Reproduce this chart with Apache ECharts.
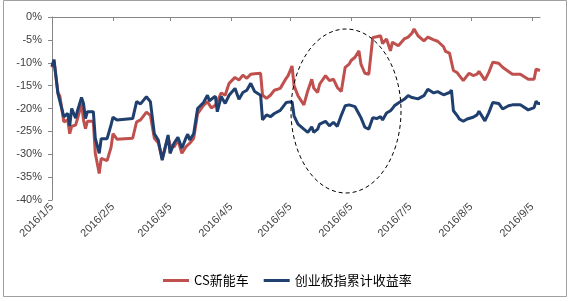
<!DOCTYPE html>
<html>
<head>
<meta charset="utf-8">
<script src="https://cdn.jsdelivr.net/npm/echarts@6/dist/echarts.min.js"></script>
<style>
html,body{margin:0;padding:0;background:#fff;}
#c{width:570px;height:301px;}
</style>
</head>
<body>
<div id="c"></div>
<script>
var seriesNames = ['CS新能车', '创业板指累计收益率'];
var tickLabels = ['2016/1/5','2016/2/5','2016/3/5','2016/4/5','2016/5/5','2016/6/5','2016/7/5','2016/8/5','2016/9/5'];
var dates = [
'2016-01-05','2016-01-06','2016-01-08','2016-01-09','2016-01-11','2016-01-13','2016-01-14','2016-01-15','2016-01-17','2016-01-18',
'2016-01-20','2016-01-21','2016-01-22','2016-01-23','2016-01-26','2016-01-27','2016-01-29','2016-01-30','2016-02-02','2016-02-04',
'2016-02-05','2016-02-07','2016-02-15','2016-02-16','2016-02-17','2016-02-19','2016-02-22','2016-02-23','2016-02-24','2016-02-26',
'2016-02-28','2016-03-01','2016-03-04','2016-03-05','2016-03-07','2016-03-09','2016-03-11','2016-03-13','2016-03-14','2016-03-15',
'2016-03-17','2016-03-19','2016-03-22','2016-03-24','2016-03-25','2016-03-26','2016-03-28','2016-03-29','2016-03-31','2016-04-02',
'2016-04-04','2016-04-07','2016-04-09','2016-04-11','2016-04-13','2016-04-15','2016-04-17','2016-04-20','2016-04-21','2016-04-23',
'2016-04-25','2016-04-27','2016-04-28','2016-04-30','2016-05-03','2016-05-04','2016-05-06','2016-05-07','2016-05-09','2016-05-12',
'2016-05-14','2016-05-16','2016-05-17','2016-05-19','2016-05-20','2016-05-23','2016-05-25','2016-05-27','2016-05-29','2016-05-31',
'2016-06-02','2016-06-04','2016-06-05','2016-06-07','2016-06-09','2016-06-10','2016-06-12','2016-06-14','2016-06-16','2016-06-17',
'2016-06-18','2016-06-20','2016-06-21','2016-06-23','2016-06-25','2016-06-26','2016-06-27','2016-06-29','2016-06-30','2016-07-02',
'2016-07-04','2016-07-06','2016-07-07','2016-07-09','2016-07-12','2016-07-14','2016-07-17','2016-07-19','2016-07-22','2016-07-23',
'2016-07-25','2016-07-26','2016-07-27','2016-07-29','2016-07-30','2016-08-01','2016-08-03','2016-08-04','2016-08-06','2016-08-08',
'2016-08-09','2016-08-12','2016-08-14','2016-08-16','2016-08-19','2016-08-21','2016-08-24','2016-08-26','2016-08-30','2016-08-31',
'2016-09-03','2016-09-06','2016-09-07','2016-09-08','2016-09-09'
];
var csNev = [
-11,-9.5,-16.5,-17.3,-22.9,-22.5,-25.5,-23.9,-23.6,-22.2,
-18.9,-22.5,-24.4,-22.8,-22.8,-29.8,-34.2,-30.9,-31.4,-28.5,
-25.5,-26.7,-26.5,-26.7,-22.9,-22.5,-20.8,-20.4,-21.5,-26.5,
-27.5,-30.9,-26.2,-28,-28.4,-26.9,-29.8,-28.4,-28,-27.6,
-26.5,-21.1,-19.3,-18.5,-18.9,-19.9,-19.3,-19.3,-16.6,-17.1,
-14.5,-13.2,-13.8,-12.7,-13.4,-12.5,-12.4,-12.3,-17.1,-17.8,
-17.1,-16,-15.8,-15.6,-13.4,-12.8,-10.7,-15,-17.2,-19.2,
-16.1,-13.6,-15.5,-16.5,-14.7,-12.8,-13.9,-13.6,-15.4,-16.3,
-11,-10.3,-9.5,-8.8,-7.4,-10.3,-12.3,-12.5,-4.5,-4.1,
-4.3,-4.1,-5.8,-4.8,-7.4,-5.5,-5.8,-6.3,-5.8,-4.8,
-4.4,-3.5,-2.6,-4.1,-5.2,-4.4,-5,-5.3,-6.5,-7.5,
-7.9,-7.5,-11.7,-12.2,-12.8,-13.9,-12.8,-12.3,-12.8,-12.5,
-11.9,-13.8,-12.1,-9.9,-10.1,-11,-11.9,-12.5,-12.5,-12.7,
-13.6,-13.6,-11.4,-11.6,-11.7
];
var chinext = [
-10.8,-9.3,-16.7,-17,-21.8,-21.1,-23.8,-20,-22.1,-20.4,
-17.6,-18.9,-22.2,-20.7,-20.7,-26.5,-29.8,-26.6,-26.6,-23.6,
-21.9,-22.5,-22.2,-22.3,-18.5,-19,-17.4,-18,-18.5,-25.5,
-26.9,-31.3,-25.8,-29.8,-27.6,-26.3,-28.7,-26.5,-25.6,-26.9,
-25.5,-20,-18.7,-17.1,-18.3,-18.2,-17.3,-20.7,-17.4,-18.9,
-17.1,-15.6,-18,-16.5,-16,-14.5,-16.3,-17.1,-22.5,-21.4,
-21.8,-21.1,-21.4,-20.4,-18.7,-18.5,-18.5,-21.6,-23.4,-24.5,
-25.2,-24,-25.2,-24.5,-23.4,-22.8,-23.8,-23,-23.9,-21.5,
-19.4,-19.2,-19.2,-19.6,-21.2,-22,-24.1,-24.5,-22,-22.1,
-22.2,-21.8,-22.5,-21,-20.5,-20,-19.4,-18.8,-18.4,-18,
-17.2,-17.6,-17.6,-17.9,-17.2,-15.8,-16.6,-16.3,-17,-16.8,
-16.5,-16,-20.5,-21.6,-22.3,-22.8,-22.3,-22.4,-21.9,-21.4,
-20.6,-22.7,-20.9,-18.7,-18.9,-20.1,-19.4,-19.2,-19.2,-19.6,
-20.3,-19.8,-18.4,-18.9,-18.9
];

function parseSlash(s){ var p = s.split('/'); return Date.UTC(+p[0], +p[1]-1, +p[2]); }
function parseDash(s){ var p = s.split('-'); return Date.UTC(+p[0], +p[1]-1, +p[2]); }
var tickTimes = tickLabels.map(parseSlash);
var labelMap = {};
tickTimes.forEach(function(t,i){ labelMap[t] = tickLabels[i]; });
var xMin = parseDash(dates[0]);
var xMax = parseDash(dates[dates.length-1]);
var redData = dates.map(function(d,i){ return [parseDash(d), csNev[i]]; });
var blueData = dates.map(function(d,i){ return [parseDash(d), chinext[i]]; });

var chart = echarts.init(document.getElementById('c'), null, {renderer:'canvas'});
var axisGray = '#868686';
chart.setOption({
  animation: false,
  backgroundColor: '#fff',
  textStyle: {fontFamily: 'Liberation Sans, Arial, sans-serif'},
  grid: {left: 52, right: 30, top: 17, bottom: 101, containLabel: false},
  xAxis: [{
    type: 'value', min: xMin, max: xMax, position: 'bottom', scale: true,
    axisLine: {show: false, onZero: false},
    axisTick: {show: false},
    splitLine: {show: false},
    axisLabel: {
      rotate: 45, margin: 5, fontSize: 11, color: '#404040',
      customValues: tickTimes,
      showMinLabel: true, showMaxLabel: true, hideOverlap: false,
      formatter: function(v){ return labelMap[v] || ''; }
    }
  }, {
    type: 'value', min: xMin, max: xMax, position: 'top', scale: true,
    axisLine: {show: true, onZero: false, lineStyle: {color: axisGray, width: 1}},
    axisTick: {show: true, inside: true, length: 4, customValues: tickTimes, lineStyle: {color: axisGray}},
    axisLabel: {show: false},
    splitLine: {show: false}
  }],
  yAxis: {
    type: 'value', min: -40, max: 0, interval: 5,
    axisLine: {show: true, lineStyle: {color: axisGray, width: 1}},
    axisTick: {show: true, length: 4, lineStyle: {color: axisGray}},
    splitLine: {show: false},
    axisLabel: {formatter: '{value}%', fontSize: 11, color: '#404040', margin: 10}
  },
  legend: {
    left: 158, top: 269, icon: 'rect', itemWidth: 26, itemHeight: 3, itemGap: 15,
    textStyle: {fontSize: 13, color: '#000', fontFamily: 'Noto Sans CJK SC, sans-serif'},
    data: seriesNames
  },
  series: [{
    name: seriesNames[0], type: 'line', xAxisIndex: 0, data: redData,
    symbol: 'none', showSymbol: false, color: '#C0504D',
    lineStyle: {width: 3, color: '#C0504D'}
  }, {
    name: seriesNames[1], type: 'line', xAxisIndex: 0, data: blueData,
    symbol: 'none', showSymbol: false, color: '#1F3F6E',
    lineStyle: {width: 3, color: '#1F3F6E'}
  }],
  graphic: [{
    type: 'rect', silent: true, z: 0,
    shape: {x: 3.5, y: 0.5, width: 563, height: 296},
    style: {fill: 'none', stroke: '#a0a0a0', lineWidth: 1}
  }, {
    type: 'ellipse', silent: true, z: 100,
    shape: {cx: 346, cy: 111, rx: 55, ry: 82},
    style: {fill: 'none', stroke: '#000', lineWidth: 1, lineDash: [4, 3]}
  }]
});
</script>
</body>
</html>
